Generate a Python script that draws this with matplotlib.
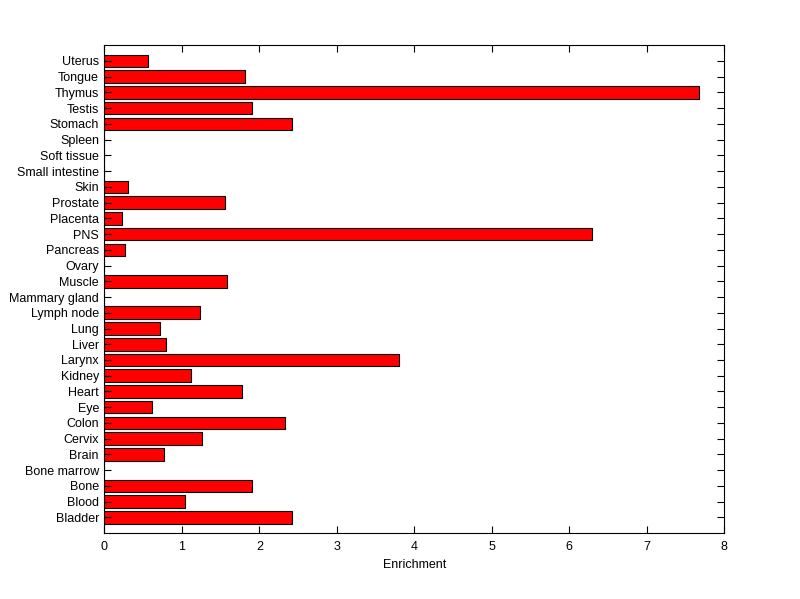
import matplotlib
matplotlib.use('Agg')
import matplotlib.pyplot as plt

# tissues from bottom to top
tissues = ['Bladder', 'Blood', 'Bone', 'Bone marrow', 'Brain', 'Cervix', 'Colon',
           'Eye', 'Heart', 'Kidney', 'Larynx', 'Liver', 'Lung', 'Lymph node',
           'Mammary gland', 'Muscle', 'Ovary', 'Pancreas', 'PNS', 'Placenta',
           'Prostate', 'Skin', 'Small intestine', 'Soft tissue', 'Spleen',
           'Stomach', 'Testis', 'Thymus', 'Tongue', 'Uterus']
enrichment = [2.42, 1.04, 1.90, 0.0, 0.77, 1.26, 2.33,
              0.62, 1.77, 1.12, 3.80, 0.79, 0.72, 1.23,
              0.0, 1.58, 0.0, 0.26, 6.29, 0.22,
              1.56, 0.31, 0.0, 0.0, 0.0,
              2.42, 1.91, 7.68, 1.81, 0.566]

plt.rcParams['font.family'] = ['Liberation Sans', 'DejaVu Sans']

fig = plt.figure(figsize=(8, 5.99), dpi=100)
ax = fig.add_axes([0.1306, 0.110, 0.7744, 0.8145])

pos = list(range(1, len(tissues) + 1))
ax.barh(pos, enrichment, height=0.8, color='#ff0000', edgecolor='black', linewidth=0.8)

ax.set_xlim(0, 8)
ax.set_ylim(0, len(tissues) + 1)
ax.set_yticks(pos)
ax.set_yticklabels(tissues)
ax.set_xticks(range(0, 9))
ax.set_xlabel('Enrichment', fontsize=9, labelpad=4)

ax.tick_params(axis='both', direction='in', length=5, width=0.8, labelsize=9,
               top=True, right=True)
ax.tick_params(axis='x', pad=6)
ax.tick_params(axis='y', pad=4)
for s in ax.spines.values():
    s.set_linewidth(0.8)

fig.savefig('out.png', dpi=100)
